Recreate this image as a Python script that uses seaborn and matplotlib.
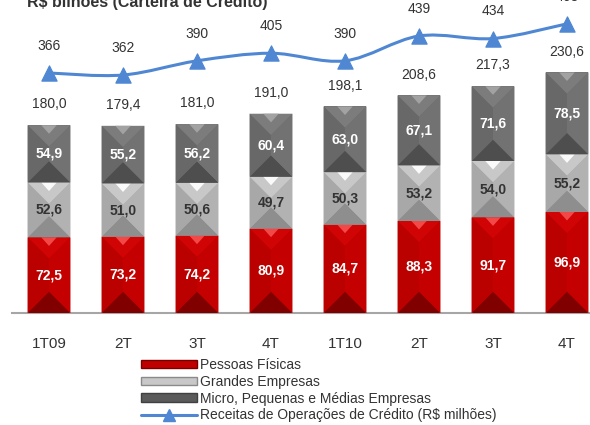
import numpy as np
import pandas as pd
import seaborn as sns
import matplotlib.pyplot as plt
from matplotlib.patches import Polygon, Patch, PathPatch
from matplotlib.path import Path
from matplotlib.lines import Line2D


# -------------------------------------------------
# DATA
# -------------------------------------------------
periods = ["1T09", "2T", "3T", "4T", "1T10", "2T", "3T", "4T"]
pessoas_fisicas = [72.5, 73.2, 74.2, 80.9, 84.7, 88.3, 91.7, 96.9]
grandes_empresas = [52.6, 51.0, 50.6, 49.7, 50.3, 53.2, 54.0, 55.2]
micro_pme = [54.9, 55.2, 56.2, 60.4, 63.0, 67.1, 71.6, 78.5]
totals = ["180,0", "179,4", "181,0", "191,0", "198,1", "208,6", "217,3", "230,6"]
receitas = [366, 362, 390, 405, 390, 439, 434, 463]

series_names = [
    "Pessoas Físicas",
    "Grandes Empresas",
    "Micro, Pequenas e Médias Empresas",
]
line_name = r"Receitas de Operações de Crédito (R\$ milhões)"
title = r"R\$ bilhões (Carteira de Crédito)"


# -------------------------------------------------
# STYLE
# -------------------------------------------------
sns.set_style("white")
plt.rcParams["font.family"] = ["Liberation Sans", "DejaVu Sans"]

TEXT = "#333333"
BLUE = "#4f87d3"
AXIS_GRAY = "#a6a6a6"

# faces: base, top, left, right, bottom, highlight, label colour
shades = {
    "Pessoas Físicas": dict(base="#c00000", top="#d00404", left="#bb0000",
                            right="#c40000", bottom="#800000", hi="#f24848",
                            text="white"),
    "Grandes Empresas": dict(base="#acacac", top="#c8c8c8", left="#a8a8a8",
                             right="#b2b2b2", bottom="#8e8e8e", hi="#fafafa",
                             text="#333333"),
    "Micro, Pequenas e Médias Empresas": dict(base="#6c6c6c", top="#7c7c7c",
                                              left="#686868", right="#727272",
                                              bottom="#4e4e4e", hi="#a2a2a2",
                                              text="white"),
}

df = pd.DataFrame({
    "pos": np.arange(len(periods)),
    series_names[0]: pessoas_fisicas,
    series_names[1]: grandes_empresas,
    series_names[2]: micro_pme,
})

fig = plt.figure(figsize=(5.9, 4.25), dpi=100)
ax = fig.add_axes([12 / 590, 1 - 313 / 425, 592 / 590, 313 / 425])

# -------------------------------------------------
# STACKED BARS
# -------------------------------------------------
bottom = np.zeros(len(periods))
segments = []
for name in series_names:
    vals = df[name].values
    sns.barplot(x=df["pos"].astype(str), y=vals, bottom=bottom, ax=ax,
                color=shades[name]["base"], width=0.58, saturation=1,
                linewidth=0, zorder=2)
    for i, v in enumerate(vals):
        segments.append((name, i, bottom[i], bottom[i] + v, v))
    bottom = bottom + vals

ax.set_xlim(-0.5, 7.5)
ax.set_ylim(0, 300)

fig.canvas.draw()
half_w = 0.29
inv = ax.transData.inverted()
for name, i, y0, y1, v in segments:
    c = shades[name]
    (L, B) = ax.transData.transform((i - half_w, y0))
    (R, T) = ax.transData.transform((i + half_w, y1))
    w, h = R - L, T - B
    d = min(w, h) / 2
    faces = [
        ([(L, T), (R, T), (R - d, T - d), (L + d, T - d)], c["top"]),
        ([(L, B), (R, B), (R - d, B + d), (L + d, B + d)], c["bottom"]),
        ([(L, B), (L, T), (L + d, T - d), (L + d, B + d)], c["left"]),
        ([(R, B), (R, T), (R - d, T - d), (R - d, B + d)], c["right"]),
        ([(L + 0.32 * w, T), (R - 0.32 * w, T),
          ((L + R) / 2, T - 0.2 * w)], c["hi"]),
    ]
    for pts, col in faces:
        ax.add_patch(Polygon(inv.transform(pts), closed=True, facecolor=col,
                             edgecolor="none", zorder=3))
    ax.text(i, (y0 + y1) / 2, f"{v:.1f}".replace(".", ","), ha="center",
            va="center", fontsize=10, fontweight="bold", color=c["text"],
            zorder=5)

for i, lab in enumerate(totals):
    ax.annotate(lab, (i, bottom[i]), xytext=(0, 15), textcoords="offset points",
                ha="center", va="center", fontsize=10, color=TEXT)

# axis styling
sns.despine(ax=ax, left=True)
ax.spines["bottom"].set_color(AXIS_GRAY)
ax.spines["bottom"].set_linewidth(1.5)
ax.set_yticks([])
ax.set_ylabel("")
ax.set_xlabel("")
ax.set_xticks(range(len(periods)))
ax.set_xticklabels(periods, fontsize=11, color=TEXT)
ax.set_xticks(np.arange(-0.5, 8, 1), minor=True)
ax.tick_params(axis="x", which="major", length=0, pad=17)
ax.tick_params(axis="x", which="minor", length=5, width=1.2,
               color=AXIS_GRAY, direction="out")

# -------------------------------------------------
# LINE (secondary axis)
# -------------------------------------------------
ax2 = ax.twinx()
ax2.set_ylim(-107.5, 510)
xs = np.arange(len(receitas), dtype=float)
ys = np.array(receitas, dtype=float)
pts = np.column_stack([xs, ys])
ext = np.vstack([pts[0], pts, pts[-1]])
verts = [tuple(pts[0])]
codes = [Path.MOVETO]
for k in range(len(pts) - 1):
    p0, p1, p2, p3 = ext[k], ext[k + 1], ext[k + 2], ext[k + 3]
    verts += [tuple(p1 + (p2 - p0) / 6), tuple(p2 - (p3 - p1) / 6), tuple(p2)]
    codes += [Path.CURVE4] * 3
ax2.add_patch(PathPatch(Path(verts, codes), facecolor="none", edgecolor=BLUE,
                        linewidth=2.2, zorder=4))
sns.scatterplot(x=xs, y=ys, ax=ax2, marker="^", s=120, color=BLUE,
                edgecolor=BLUE, zorder=5)
for x, y in zip(xs, ys):
    ax2.annotate(f"{int(y)}", (x, y), xytext=(0, 19.5), textcoords="offset points",
                 ha="center", va="center", fontsize=10, color=TEXT,
                 annotation_clip=False)
ax2.set_xlim(-0.5, 7.5)
ax2.set_ylim(-107.5, 510)
ax2.set_yticks([])
ax2.set_ylabel("")
for s in ax2.spines.values():
    s.set_visible(False)

# -------------------------------------------------
# TITLE + LEGEND
# -------------------------------------------------
fig.text(27 / 590, 1 - 7 / 425, title, fontsize=11.5, fontweight="bold",
         color=TEXT, ha="left", va="baseline")

handles = [
    Patch(facecolor=shades[series_names[0]]["base"], edgecolor="#7a0000"),
    Patch(facecolor="#c8c8c8", edgecolor="#8a8a8a"),
    Patch(facecolor="#5a5a5a", edgecolor="#404040"),
    Line2D([], [], color=BLUE, linewidth=2.2, marker="^", markersize=9),
]
fig.legend(handles, series_names + [line_name], loc="upper left",
           bbox_to_anchor=(141 / 590, 1 - 358 / 425), frameon=False,
           fontsize=10, labelcolor=TEXT, handlelength=4.0, handleheight=0.55,
           handletextpad=0.25, labelspacing=0.2, borderpad=0, borderaxespad=0)

plt.savefig("out.png", dpi=100)
